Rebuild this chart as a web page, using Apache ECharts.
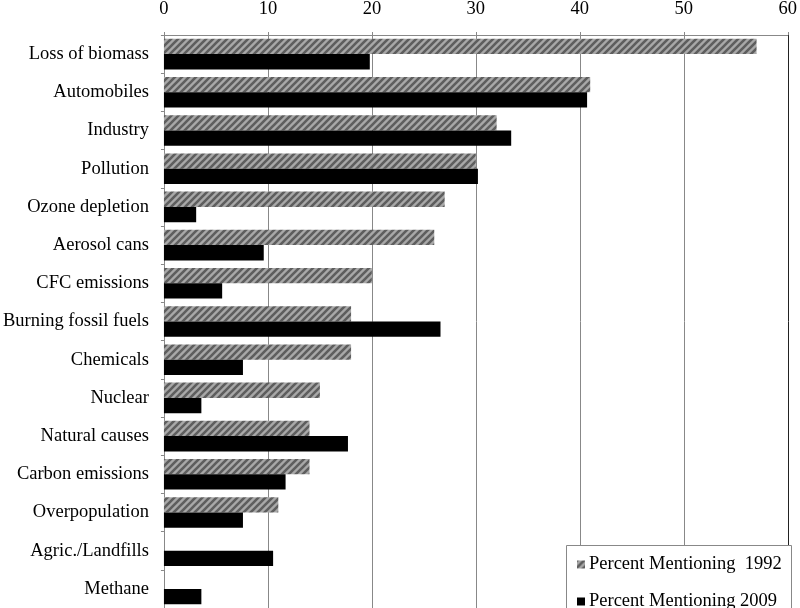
<!DOCTYPE html>
<html><head><meta charset="utf-8">
<script src="https://cdn.jsdelivr.net/npm/echarts@6/dist/echarts.min.js"></script>
<style>html,body{margin:0;padding:0;background:#fff}#c{width:800px;height:608px}</style>
</head><body><div id="c"></div>
<script>
const categories = ['Loss of biomass','Automobiles','Industry','Pollution','Ozone depletion','Aerosol cans','CFC emissions','Burning fossil fuels','Chemicals','Nuclear','Natural causes','Carbon emissions','Overpopulation','Agric./Landfills','Methane'];
const values1992 = [57,41,32,30,27,26,20,18,18,15,14,14,11,0,0];
const values2009 = [19.8,40.7,33.4,30.2,3.1,9.6,5.6,26.6,7.6,3.6,17.7,11.7,7.6,10.5,3.6];
const xTicks = {min:0, max:60, interval:10};

function hatch(){
  const s = 7, cv = document.createElement('canvas');
  cv.width = s; cv.height = s;
  const g = cv.getContext('2d');
  g.fillStyle = '#a8a8a8'; g.fillRect(0,0,s,s);
  g.strokeStyle = '#5e5e5e'; g.lineWidth = 2.6;
  g.beginPath();
  g.moveTo(-1, s+1); g.lineTo(s+1, -1);
  g.moveTo(-1, 1); g.lineTo(1, -1);
  g.moveTo(s-1, s+1); g.lineTo(s+1, s-1);
  g.stroke();
  return {image: cv, repeat: 'repeat'};
}
const font = 'Liberation Serif';
const fs = 18.5;
const chart = echarts.init(document.getElementById('c'), null, {renderer:'canvas'});
chart.setOption({
  animation:false,
  textStyle:{fontFamily:font},
  grid:{left:163, top:35, width:628, height:583.5},
  graphic:[{type:'rect', z:5, shape:{x:566.5, y:545.5, width:225, height:80},
    style:{fill:'#fff', stroke:'#888', lineWidth:1}}],
  legend:{
    orient:'vertical', left:567, top:546, height:120, width:230, z:6,
    padding:[9,4,0,10], itemGap:18, itemWidth:8, itemHeight:8,
    icon:'rect',
    textStyle:{fontFamily:font, fontSize:fs, color:'#000', padding:[0,0,0,-1]},
    data:['Percent Mentioning  1992','Percent Mentioning 2009']
  },
  xAxis:{
    type:'value', position:'top', min:xTicks.min, max:xTicks.max, interval:xTicks.interval,
    axisLine:{show:true, lineStyle:{color:'#888'}},
    axisTick:{show:true, length:3, lineStyle:{color:'#888'}},
    axisLabel:{fontFamily:font, fontSize:fs, color:'#000', margin:16},
    splitLine:{show:true, lineStyle:{color:['#888','#888','#888','#888','#888','#888','#222'], width:1}}
  },
  yAxis:{
    type:'category', inverse:true, data:categories,
    axisLine:{show:true, lineStyle:{color:'#888'}},
    axisTick:{show:true, length:3, lineStyle:{color:'#888'}},
    axisLabel:{fontFamily:font, fontSize:fs, color:'#000', margin:15}
  },
  series:[
    {name:'Percent Mentioning  1992', type:'bar', data:values1992, barGap:'0%', barCategoryGap:'20%',
     itemStyle:{color:hatch()}},
    {name:'Percent Mentioning 2009', type:'bar', data:values2009, barGap:'0%', barCategoryGap:'20%',
     itemStyle:{color:'#000'}}
  ]
});
</script></body></html>
